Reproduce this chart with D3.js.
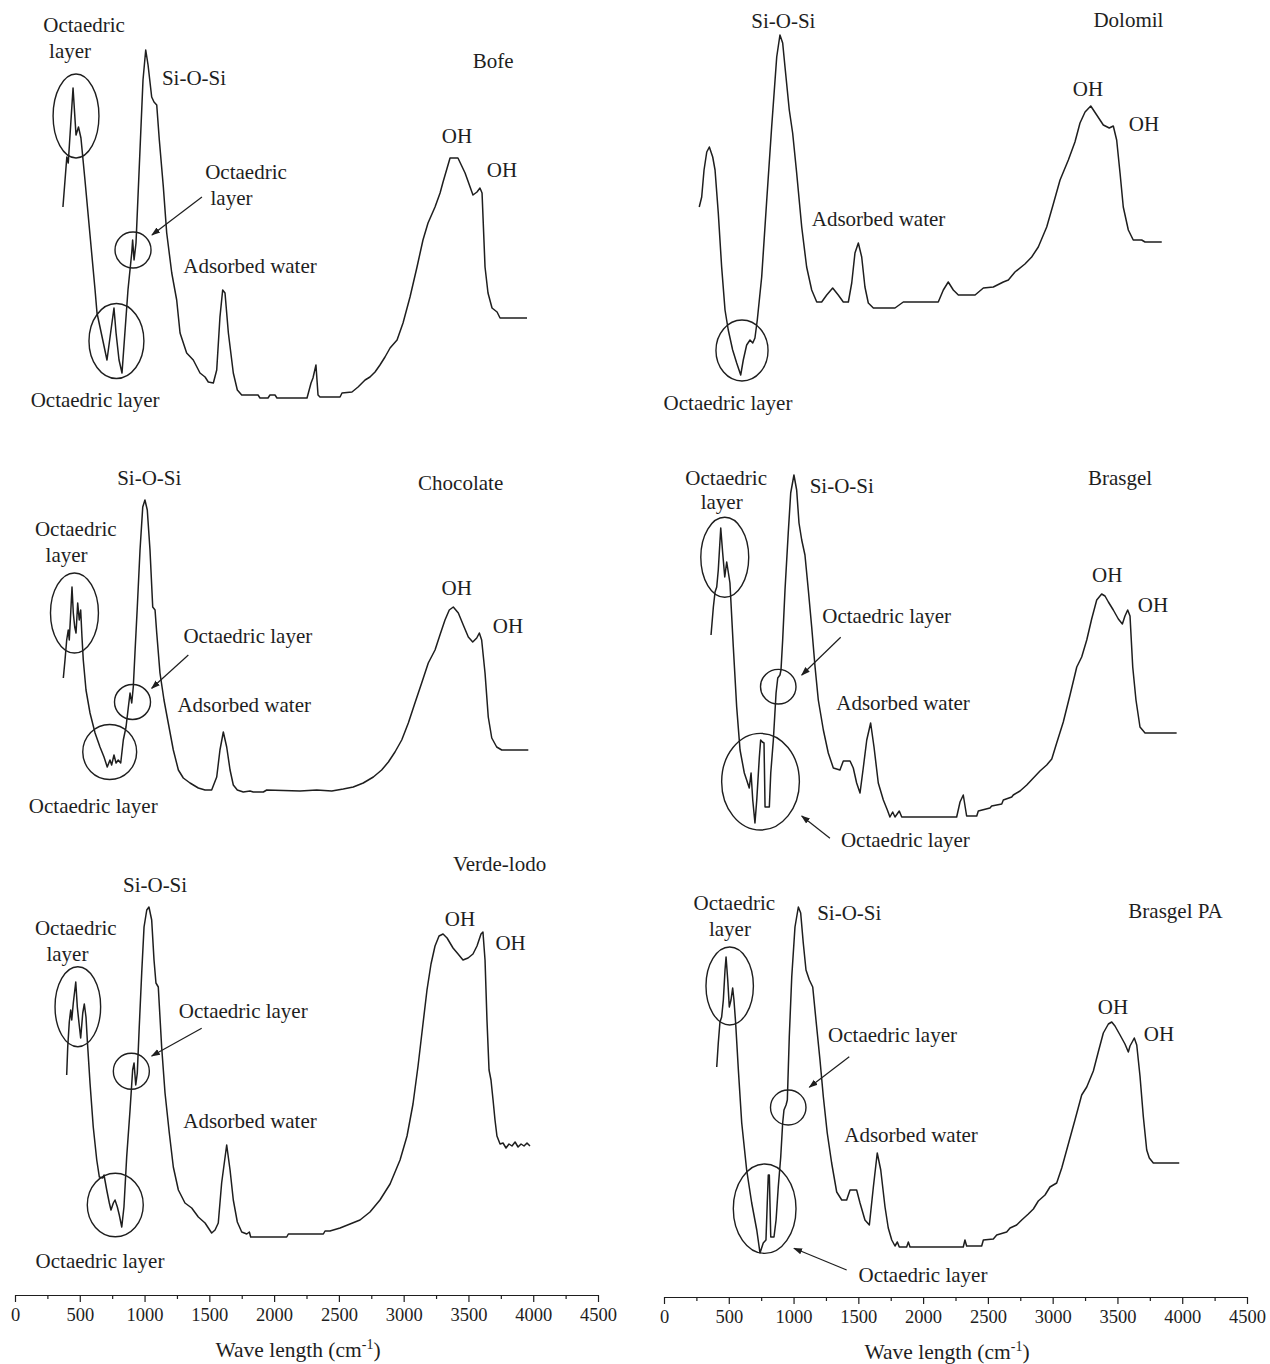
<!DOCTYPE html>
<html>
<head>
<meta charset="utf-8">
<script src="https://cdn.jsdelivr.net/npm/d3@7"></script>
<style>
  body { margin: 0; background: #fff; }
  text { font-family: "Liberation Serif", "Times New Roman", serif; fill: #1e1e1e; }
</style>
</head>
<body>
<svg id="chart" width="1270" height="1364"></svg>
<script>
// FTIR spectra of six clays: [wavenumber (cm-1), intensity (a.u.)]
const bofe = [[370,96.5],[400,121.5],[411,118.5],[448,156],[471,132.5],[490,136.5],[509,131],[540,110],[579,82.5],[618,55],[633,43.5],[656,36.5],[710,20],[741,35],[764,46],[780,33.5],[803,20],[826,13.5],[872,55],[901,73.5],[908,80],[919,70],[934,78.5],[988,160],[1009,175],[1027,167.5],[1055,151.5],[1073,149],[1094,147.5],[1114,130],[1145,106.5],[1171,83.5],[1210,63.5],[1248,50],[1274,33.5],[1325,23.5],[1376,20],[1428,13.5],[1467,11.5],[1492,9],[1531,8.5],[1557,15],[1582,41.5],[1603,55],[1621,53.5],[1647,33.5],[1685,13.5],[1716,5],[1750,2.5],[1876,2.5],[1891,1],[1953,1],[1968,2.5],[2007,2.5],[2022,1],[2254,1],[2285,8.5],[2300,11],[2323,17.5],[2339,2.5],[2354,1.5],[2509,1.5],[2524,3.5],[2601,4],[2648,6.5],[2702,10],[2740,11.5],[2779,14],[2817,17.5],[2856,21.5],[2895,26],[2949,30],[2995,38.5],[3049,51.5],[3103,66.5],[3149,80],[3188,88.5],[3242,96.5],[3281,103.5],[3304,109],[3358,121],[3419,121],[3474,113.5],[3535,102.5],[3566,104],[3589,106],[3605,103.5],[3628,66.5],[3651,53.5],[3682,46],[3721,44],[3744,41],[3952,41]];

const dolomil = [[272,96.5],[291,101.5],[309,115],[330,124],[350,126.5],[376,121.5],[394,115],[419,93.5],[445,66.5],[471,45],[496,35],[530,25],[561,18.5],[592,12.5],[612,20],[638,27.5],[664,30],[685,28.5],[702,31],[720,40],[754,61.5],[793,100],[831,136.5],[870,171.5],[895,182.5],[916,178.5],[934,166.5],[967,145],[993,133.5],[1024,113.5],[1063,86.5],[1101,66.5],[1140,55],[1179,49],[1217,49],[1256,52.5],[1302,56],[1345,52.5],[1384,49],[1423,49],[1449,58.5],[1474,73.5],[1500,78.5],[1526,71.5],[1551,56.5],[1577,48.5],[1616,46],[1783,46],[1847,49],[2117,49],[2156,55],[2194,59],[2233,55],[2272,52.5],[2401,52.5],[2465,56],[2542,56.5],[2619,59],[2658,60],[2709,64],[2786,68],[2838,71.5],[2889,76.5],[2954,86.5],[3005,98],[3057,110],[3121,120],[3172,129],[3211,138.5],[3250,144],[3294,147],[3340,142.5],[3391,137.5],[3437,136],[3468,137],[3494,130],[3520,113.5],[3545,96.5],[3584,85],[3622,80],[3687,80],[3713,79],[3842,79]];

const chocolate = [[373,76],[386,85],[399,95],[411,100],[419,95],[430,108.5],[440,121.5],[450,108.5],[461,101.5],[471,98.5],[484,113.5],[496,105],[507,110],[517,96.5],[527,85],[548,70],[579,58.5],[618,48.5],[656,41.5],[687,36.5],[712,31.5],[733,35],[746,32.5],[764,37.5],[780,33.5],[797,35],[816,33.5],[836,45],[857,51.5],[875,61.5],[888,68.5],[901,63.5],[913,71.5],[926,88.5],[944,111.5],[965,140],[986,161.5],[1003,165],[1021,160],[1042,140],[1063,111.5],[1081,110],[1094,98.5],[1119,78.5],[1150,65],[1183,53.5],[1222,40],[1261,30],[1299,26],[1351,23.5],[1415,21],[1467,20],[1518,20],[1557,26.5],[1582,40],[1608,49],[1634,41.5],[1660,30],[1685,22.5],[1716,20],[1762,19],[1814,19.5],[1839,19],[1917,19],[1943,20],[2200,19.5],[2329,20],[2445,19.5],[2534,20.5],[2611,21.5],[2688,23.5],[2766,26.5],[2830,30],[2882,34],[2933,39],[2985,45],[3036,53.5],[3087,63.5],[3139,73.5],[3190,83.5],[3242,90],[3280,97.5],[3319,105],[3352,110],[3383,111.5],[3422,108.5],[3460,102.5],[3499,96.5],[3533,94],[3564,96],[3584,98.5],[3602,95],[3628,78.5],[3653,56.5],[3680,46],[3718,41.5],[3757,40],[3962,40]];

const brasgel = [[363,97.5],[381,111.5],[394,119],[407,121.5],[419,130],[438,151],[453,138.5],[469,126.5],[484,134],[502,126.5],[509,123.5],[535,91.5],[561,61.5],[587,40],[620,28.5],[638,25],[658,21],[672,28.5],[685,15],[702,3.5],[716,15],[736,36.5],[746,45],[759,44],[772,43.5],[780,11.5],[813,11.5],[824,28.5],[844,45],[865,68.5],[878,76],[895,77.5],[903,80],[916,95],[934,120],[959,148.5],[978,168.5],[1003,177.5],[1024,170],[1042,153.5],[1063,145],[1088,137.5],[1114,120],[1140,101.5],[1166,81.5],[1191,65],[1230,50],[1268,38.5],[1307,31],[1358,30],[1384,34.5],[1436,34.5],[1461,31],[1487,23.5],[1513,18.5],[1538,31],[1565,45],[1595,53.5],[1621,41.5],[1654,23.5],[1693,15],[1724,10],[1744,6.5],[1765,9],[1783,6.5],[1816,9.5],[1835,6.5],[2259,6.5],[2285,14],[2310,17.5],[2336,7],[2414,7],[2426,9.5],[2516,11],[2529,12],[2607,13],[2619,15],[2684,16.5],[2696,17.5],[2748,19.5],[2800,22.5],[2851,26],[2902,29.5],[2954,32.5],[2993,35.5],[3031,43.5],[3082,54],[3134,67.5],[3186,81.5],[3224,86.5],[3263,95],[3301,105.5],[3340,115],[3378,118],[3404,117],[3430,114],[3468,110],[3507,105.5],[3538,103],[3558,107],[3579,110],[3597,107],[3618,81.5],[3643,65],[3674,51.5],[3713,48.5],[3957,48.5]];

const verdeLodo = [[399,92.5],[407,106.5],[419,119],[430,125],[438,120],[450,128.5],[469,139],[481,126.5],[494,118.5],[507,111],[523,123.5],[535,128],[548,121.5],[558,110],[579,88.5],[604,66.5],[631,50],[651,41.5],[677,41],[687,42.5],[708,35],[728,28.5],[741,25],[759,28.5],[772,30],[790,26.5],[805,22.5],[824,16.5],[841,26.5],[862,51.5],[888,75],[908,95],[919,98.5],[932,87.5],[944,93.5],[959,116.5],[978,143.5],[996,166.5],[1017,175],[1034,176.5],[1055,170],[1073,150],[1088,138.5],[1106,136.5],[1132,106.5],[1158,83.5],[1191,63.5],[1222,46.5],[1261,35],[1312,28.5],[1364,26],[1415,21.5],[1467,18.5],[1518,13.5],[1544,15],[1569,18.5],[1595,38.5],[1634,57.5],[1660,45],[1685,30],[1716,19],[1750,14],[1789,13],[1809,14],[1819,11.5],[2097,11.5],[2110,13],[2380,13],[2393,14.5],[2431,14.5],[2509,16],[2586,18],[2663,20],[2740,24],[2817,30],[2895,38],[2972,50],[3026,62],[3072,78],[3111,97],[3149,118],[3180,135],[3211,148],[3242,157],[3273,162],[3304,163],[3335,161],[3381,156],[3420,153],[3458,150],[3497,151],[3535,153],[3566,157],[3597,163],[3612,164],[3628,150],[3643,120],[3659,95],[3674,90],[3690,80],[3705,70],[3720,62],[3744,58],[3767,58.5],[3790,56],[3813,58],[3836,57],[3860,59],[3883,56.5],[3906,58],[3929,57],[3952,58.5],[3975,57]];

const brasgelPA = [[407,96.5],[419,108.5],[432,119],[445,121.5],[458,130],[471,145],[479,151.5],[492,140],[504,126.5],[517,130],[530,136],[540,130],[553,118.5],[574,95],[600,68.5],[638,45],[677,28.5],[716,15],[741,3.5],[766,8.5],[787,10],[797,28.5],[805,42.5],[813,42.5],[824,11.5],[849,11.5],[865,20],[882,36.5],[901,51.5],[916,68.5],[926,75],[942,77.5],[952,80],[967,111.5],[986,141.5],[1011,166.5],[1037,176.5],[1055,173.5],[1075,158.5],[1096,145],[1122,140],[1148,136.5],[1173,120],[1204,100],[1230,81.5],[1260,63.5],[1294,48.5],[1333,34],[1372,30],[1410,30],[1436,35],[1487,35],[1513,28.5],[1551,20],[1585,17.5],[1616,36.5],[1646,53.5],[1673,45],[1706,26.5],[1731,16],[1758,10],[1783,7],[1801,9],[1816,6.5],[1873,6.5],[1886,9],[1899,6.5],[2310,6.5],[2323,10],[2336,7],[2452,7],[2465,10],[2542,10.5],[2568,12.5],[2645,14],[2671,16],[2722,17.5],[2761,20],[2812,23],[2851,25.5],[2889,29.5],[2941,32.5],[2979,36.5],[3031,38.5],[3070,46],[3121,58],[3172,70],[3224,82.5],[3263,86.5],[3314,94.5],[3352,104],[3391,113.5],[3430,118],[3456,119],[3481,117],[3520,112.5],[3558,108],[3584,104],[3597,107],[3618,109.5],[3630,111],[3649,107.5],[3674,92],[3700,71.5],[3726,55],[3746,51],[3777,48.5],[3977,48.5]];

// Band assignments: [text, wavenumber, intensity]
const bofeLabels = [["Octaedric",533,184],["layer",425,171],["Si-O-Si",1382,157.5],["Octaedric",1783,110.5],["layer",1671,97.5],["Adsorbed water",1814,63.5],["Octaedric layer",618,-3.5],["Bofe",3690,166],["OH",3412,128.5],["OH",3759,111.5]];
const dolomilLabels = [["Si-O-Si",921,186],["Dolomil",3585,186.5],["OH",3273,152],["OH",3705,134.5],["Adsorbed water",1656,87],["Octaedric layer",494,-5]];
const chocolateLabels = [["Si-O-Si",1036,172.5],["Octaedric",469,147],["layer",398,134],["Octaedric layer",1797,93.5],["Adsorbed water",1769,59],["Octaedric layer",604,8.5],["Chocolate",3440,170],["OH",3409,117.5],["OH",3805,98.5]];
const brasgelLabels = [["Brasgel",3520,172.5],["Octaedric",480,172.5],["layer",445,160.5],["Si-O-Si",1372,168.5],["Octaedric layer",1719,103.5],["Adsorbed water",1845,60],["Octaedric layer",1863,-8.5],["OH",3421,124],["OH",3774,109]];
const verdeLodoLabels = [["Verde-lodo",3740,194.5],["Si-O-Si",1081,184],["Octaedric",469,162.5],["layer",405,149.5],["Octaedric layer",1762,121],["Adsorbed water",1814,66],["Octaedric layer",656,-4],["OH",3435,167],["OH",3825,155]];
const brasgelPALabels = [["Brasgel PA",3948,171],["Octaedric",543,175],["layer",509,162],["Si-O-Si",1430,170],["Octaedric layer",1764,109],["Adsorbed water",1907,59],["Octaedric layer",1999,-11],["OH",3466,123],["OH",3821,109.5]];

// Highlight rings: [centre wavenumber, centre intensity, wavenumber radius, intensity radius]
const bofeRings = [[471,142,177,21],[911,75,139,9],[783,29.5,212,18.75]];
const dolomilRings = [[602,24.75,201,15.25]];
const chocolateRings = [[459,108.5,185,20],[907,64,139,8.75],[731,39,208,13.75]];
const brasgelRings = [[469,136.35,185,20],[882,71.65,137,8.65],[745,24.15,300,24.15]];
const verdeLodoRings = [[485,126.65,176,20],[898,94.35,139,9],[774,27.5,216,15.85]];
const brasgelPARings = [[507,137,183,19.5],[959,76.25,137,8.75],[777,25.65,242,22.35]];

// Pointer arrows: [from wavenumber, from intensity, to wavenumber, to intensity]
const bofeArrows = [[1443,101.5,1057,82.5]];
const dolomilArrows = [];
const chocolateArrows = [[1338,87.5,1055,70.85]];
const brasgelArrows = [[1364,96.35,1063,77.5],[1281,-4.15,1063,7]];
const verdeLodoArrows = [[1441,115.85,1055,102]];
const brasgelPAArrows = [[1430,101.65,1122,86.35],[1410,-5,1003,5.85]];

const majorTicks = d3.range(0, 4501, 500);
const minorTicks = d3.range(250, 4500, 500);
const axisTitle = "Wave length (cm";

// ---- layout ----
const colRange = [[15, 598], [664, 1247]];
const rowBase = [400, 830, 1260];
const panelHeight = 360;
const intensityMax = 180;
const axisY = [1295, 1297];
const titleCentre = [298, 947];

const panels = [
  { data: bofe, col: 0, row: 0, labels: bofeLabels, rings: bofeRings, arrows: bofeArrows },
  { data: dolomil, col: 1, row: 0, labels: dolomilLabels, rings: dolomilRings, arrows: dolomilArrows },
  { data: chocolate, col: 0, row: 1, labels: chocolateLabels, rings: chocolateRings, arrows: chocolateArrows },
  { data: brasgel, col: 1, row: 1, labels: brasgelLabels, rings: brasgelRings, arrows: brasgelArrows },
  { data: verdeLodo, col: 0, row: 2, labels: verdeLodoLabels, rings: verdeLodoRings, arrows: verdeLodoArrows },
  { data: brasgelPA, col: 1, row: 2, labels: brasgelPALabels, rings: brasgelPARings, arrows: brasgelPAArrows }
];

const ink = "#1e1e1e";
const svg = d3.select("#chart");

svg.append("defs").append("marker")
  .attr("id", "head")
  .attr("viewBox", "0 0 10 10")
  .attr("refX", 9).attr("refY", 5)
  .attr("markerWidth", 9).attr("markerHeight", 9)
  .attr("markerUnits", "userSpaceOnUse")
  .attr("orient", "auto")
  .append("path")
  .attr("d", "M0,1.5L10,5L0,8.5Z")
  .attr("fill", ink);

const xScales = colRange.map(r => d3.scaleLinear().domain([0, 4500]).range(r));

panels.forEach(p => {
  const x = xScales[p.col];
  const base = rowBase[p.row];
  const y = d3.scaleLinear().domain([0, intensityMax]).range([base, base - panelHeight]);
  const g = svg.append("g");

  g.append("path")
    .datum(p.data)
    .attr("fill", "none")
    .attr("stroke", ink)
    .attr("stroke-width", 1.5)
    .attr("stroke-linejoin", "round")
    .attr("d", d3.line().x(d => x(d[0])).y(d => y(d[1])));

  g.selectAll("ellipse").data(p.rings).join("ellipse")
    .attr("cx", d => x(d[0]))
    .attr("cy", d => y(d[1]))
    .attr("rx", d => x(d[2]) - x(0))
    .attr("ry", d => y(0) - y(d[3]))
    .attr("fill", "none")
    .attr("stroke", ink)
    .attr("stroke-width", 1.4);

  g.selectAll("line.pointer").data(p.arrows).join("line")
    .attr("class", "pointer")
    .attr("x1", d => x(d[0])).attr("y1", d => y(d[1]))
    .attr("x2", d => x(d[2])).attr("y2", d => y(d[3]))
    .attr("stroke", ink)
    .attr("stroke-width", 1.2)
    .attr("marker-end", "url(#head)");

  g.selectAll("text").data(p.labels).join("text")
    .attr("x", d => x(d[1]))
    .attr("y", d => y(d[2]))
    .attr("text-anchor", "middle")
    .attr("font-size", 21)
    .text(d => d[0]);
});

// wavenumber axes under each column
xScales.forEach((x, i) => {
  const g = svg.append("g").attr("transform", `translate(0,${axisY[i]})`);
  g.call(d3.axisBottom(x).tickValues(majorTicks).tickSize(7).tickSizeOuter(0).tickFormat(d3.format("d")));
  g.append("g").call(d3.axisBottom(x).tickValues(minorTicks).tickSize(4).tickFormat(""))
    .select(".domain").remove();
  g.selectAll("path,line").attr("stroke", ink).attr("stroke-width", 1.2);
  g.selectAll(".tick text")
    .attr("font-size", 18.5)
    .attr("dy", "0.88em")
    .attr("font-family", "Liberation Serif, serif")
    .attr("fill", ink);

  const t = g.append("text")
    .attr("x", titleCentre[i])
    .attr("y", 62)
    .attr("text-anchor", "middle")
    .attr("font-size", 21.5);
  t.append("tspan").text(axisTitle);
  t.append("tspan").attr("font-size", 14).attr("dy", -8).text("-1");
  t.append("tspan").attr("dy", 8).text(")");
});
</script>
</body>
</html>
